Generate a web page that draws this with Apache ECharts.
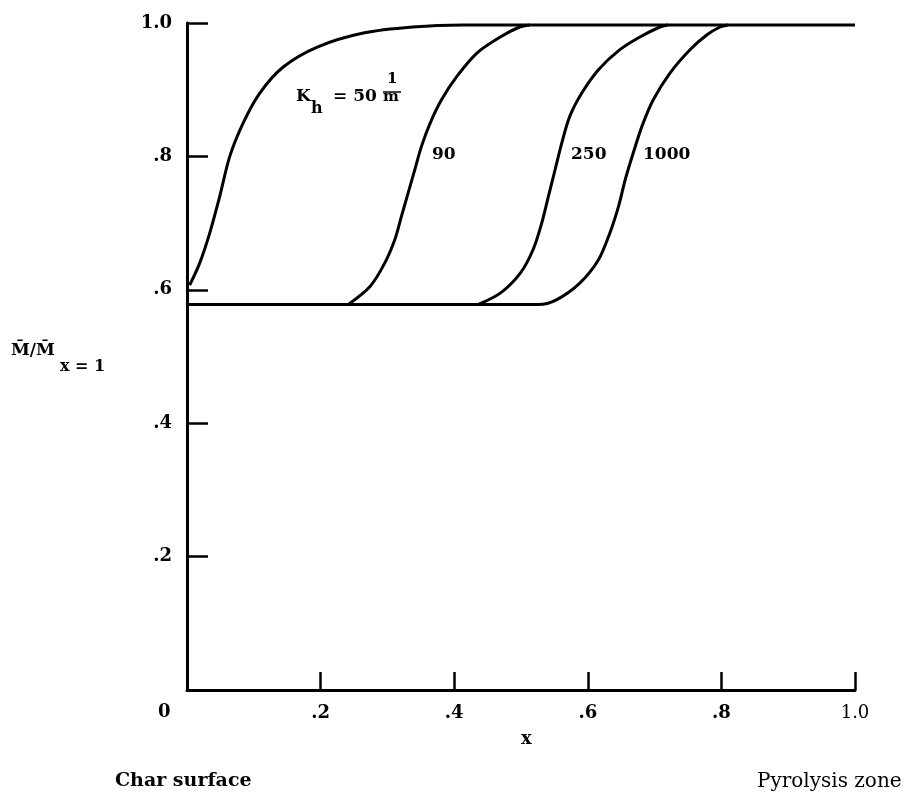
<!DOCTYPE html>
<html>
<head>
<meta charset="utf-8">
<script src="https://cdn.jsdelivr.net/npm/echarts@6/dist/echarts.min.js"></script>
<style>
html,body{margin:0;padding:0;background:#fff;}
#chart{width:912px;height:798px;}
</style>
</head>
<body>
<div id="chart"></div>
<script>
// ---- data ----
var xTickLabels = ['', '.2', '.4', '.6', '.8', '1.0'];
var yTickLabels = ['', '.2', '.4', '.6', '.8', '1.0'];
var originLabel = '0';
var curveNames = ['50', '90', '250', '1000'];

var k50X = [0.004, 0.019, 0.034, 0.049, 0.064, 0.084, 0.109, 0.144, 0.195, 0.264, 0.338, 0.413, 1.0];
var k50Y = [0.607, 0.640, 0.685, 0.740, 0.800, 0.850, 0.895, 0.934, 0.964, 0.985, 0.994, 0.997, 0.997];

var k90X = [0.2415, 0.274, 0.296, 0.311, 0.321, 0.331, 0.341, 0.351, 0.364, 0.381, 0.404, 0.434, 0.469, 0.498, 0.513];
var k90Y = [0.578, 0.605, 0.640, 0.675, 0.710, 0.745, 0.780, 0.815, 0.850, 0.885, 0.920, 0.955, 0.979, 0.994, 0.997];

var k250X = [0.436, 0.469, 0.499, 0.518, 0.531, 0.541, 0.551, 0.561, 0.573, 0.591, 0.616, 0.648, 0.678, 0.708, 0.72];
var k250Y = [0.578, 0.595, 0.625, 0.660, 0.700, 0.740, 0.780, 0.820, 0.860, 0.895, 0.930, 0.960, 0.979, 0.994, 0.997];

var k1000X = [0.0, 0.526, 0.553, 0.588, 0.616, 0.633, 0.646, 0.656, 0.668, 0.681, 0.698, 0.723, 0.753, 0.778, 0.798, 0.81];
var k1000Y = [0.578, 0.578, 0.585, 0.610, 0.645, 0.685, 0.725, 0.765, 0.805, 0.845, 0.885, 0.925, 0.960, 0.982, 0.994, 0.997];

function pairs(xs, ys) { return xs.map(function (x, i) { return [x, ys[i]]; }); }

var SERIF = '"DejaVu Serif", "Liberation Serif", serif';
var chart = echarts.init(document.getElementById('chart'), null, {renderer: 'canvas'});

function lineSeries(name, xs, ys) {
  return {
    name: name, type: 'line', data: pairs(xs, ys),
    showSymbol: false, smooth: 0.3,
    lineStyle: {color: '#000', width: 3}, silent: true
  };
}

var option = {
  animation: false,
  backgroundColor: '#fff',
  grid: {left: 187, right: 57, top: 23, bottom: 108, containLabel: false},
  xAxis: {
    type: 'value', min: 0, max: 1, interval: 0.2,
    axisLine: {show: true, lineStyle: {color: '#000', width: 3}},
    axisTick: {show: true, inside: true, length: 18, lineStyle: {color: '#000', width: 2.5}},
    splitLine: {show: false},
    axisLabel: {
      margin: 14, color: '#000', fontFamily: SERIF, fontWeight: 'bold', fontSize: 18,
      formatter: function (v) {
        var s = xTickLabels[Math.round(v / 0.2)];
        return s === '1.0' ? '{n|' + s + '}' : s;
      },
      rich: {n: {fontFamily: SERIF, fontWeight: 'normal', fontSize: 18, color: '#000'}}
    }
  },
  yAxis: {
    type: 'value', min: 0, max: 1, interval: 0.2,
    axisLine: {show: true, lineStyle: {color: '#000', width: 3}},
    axisTick: {show: true, inside: true, length: 21, lineStyle: {color: '#000', width: 2.5}},
    splitLine: {show: false},
    axisLabel: {
      margin: 15, color: '#000', fontFamily: SERIF, fontWeight: 'bold', fontSize: 18,
      formatter: function (v) { return yTickLabels[Math.round(v / 0.2)]; }
    }
  },
  series: [
    lineSeries('K50', k50X, k50Y),
    lineSeries('K90', k90X, k90Y),
    lineSeries('K250', k250X, k250Y),
    lineSeries('K1000', k1000X, k1000Y)
  ],
  graphic: [
    {type: 'text', left: 158, top: 703, style: {text: originLabel, font: 'bold 18px ' + SERIF, fill: '#000'}},
    {type: 'text', left: 521, top: 730, style: {text: 'x', font: 'bold 18px ' + SERIF, fill: '#000'}},
    {type: 'text', left: 115, top: 772, style: {text: 'Char surface', font: 'bold 19px ' + SERIF, fill: '#000'}},
    {type: 'text', left: 757, top: 772, style: {text: 'Pyrolysis zone', font: '20px ' + SERIF, fill: '#000'}},
    // y axis name  M̄/M̄ x = 1
    {type: 'text', left: 11, top: 342, style: {text: 'M\u0304/M\u0304', font: 'bold 17px ' + SERIF, fill: '#000'}},
    {type: 'text', left: 60, top: 359, style: {text: 'x = 1', font: 'bold 16px ' + SERIF, fill: '#000'}},
    // K_h = 50 1/m
    {type: 'text', left: 296, top: 88, style: {text: 'K', font: 'bold 17px ' + SERIF, fill: '#000'}},
    {type: 'text', left: 311, top: 101, style: {text: 'h', font: 'bold 16px ' + SERIF, fill: '#000'}},
    {type: 'text', left: 333, top: 88, style: {text: '= ' + curveNames[0], font: 'bold 17px ' + SERIF, fill: '#000'}},
    {type: 'text', left: 387, top: 72, style: {text: '1', font: 'bold 15px ' + SERIF, fill: '#000'}},
    {type: 'line', shape: {x1: 383, y1: 92, x2: 401, y2: 92}, style: {stroke: '#000', lineWidth: 1.5}},
    {type: 'text', left: 383, top: 90, style: {text: 'm', font: 'bold 15px ' + SERIF, fill: '#000'}},
    {type: 'text', left: 432, top: 146, style: {text: curveNames[1], font: 'bold 17px ' + SERIF, fill: '#000'}},
    {type: 'text', left: 571, top: 146, style: {text: curveNames[2], font: 'bold 17px ' + SERIF, fill: '#000'}},
    {type: 'text', left: 643, top: 146, style: {text: curveNames[3], font: 'bold 17px ' + SERIF, fill: '#000'}}
  ]
};
chart.setOption(option);
</script>
</body>
</html>
